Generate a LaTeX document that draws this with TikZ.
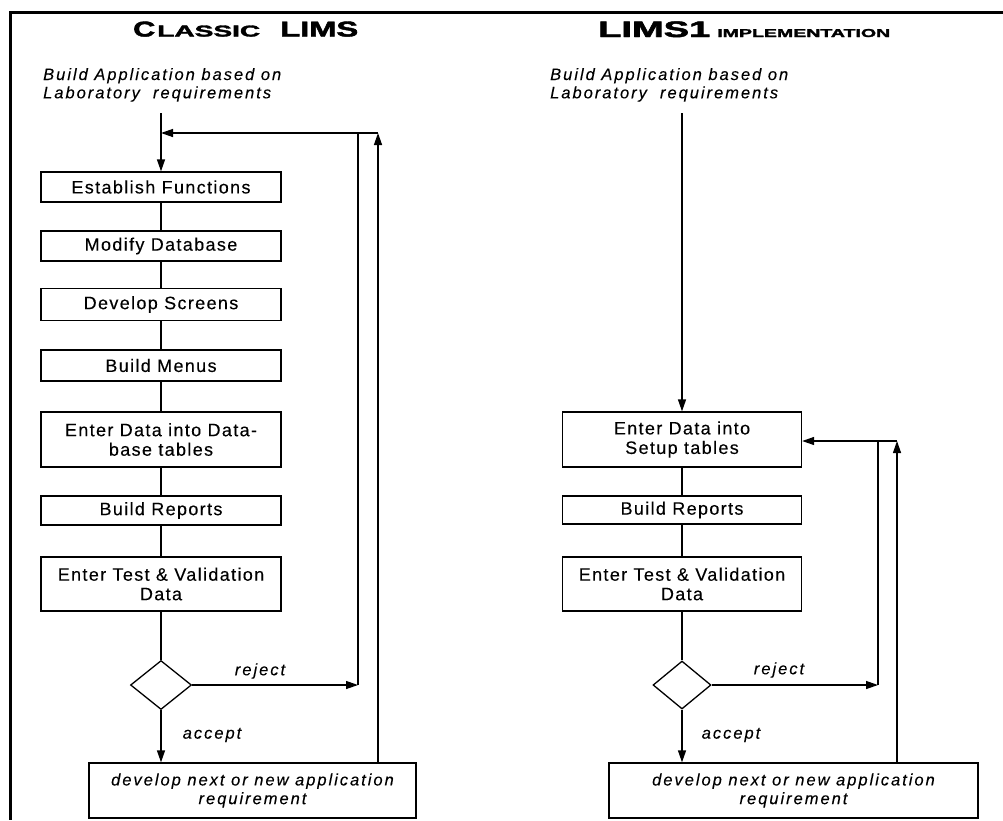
\documentclass[tikz,border=0pt]{standalone}
\usepackage{fontspec}
\usepackage{graphicx}
\setmainfont{Liberation Sans}
\newfontfamily\boxfont[LetterSpace=7.5,FakeBold=0.2]{Liberation Sans}
\newfontfamily\itfont[LetterSpace=12,FakeBold=0.15]{Liberation Sans}
\newfontfamily\titlefont[FakeBold=2]{Liberation Sans}
\usetikzlibrary{arrows.meta,shapes.geometric}
\tikzset{
  stepbox/.style={draw, line width=1.3pt, minimum width=240pt, inner sep=0pt, align=center,
    font=\boxfont\fontsize{18}{19.5}\selectfont},
  itbox/.style={draw, line width=1.3pt, inner sep=0pt, align=center, minimum height=55pt,
    font=\itfont\itshape\fontsize{16.5}{18.7}\selectfont},
  itlabel/.style={inner sep=0pt, align=left, font=\itfont\itshape\fontsize{16.5}{18.3}\selectfont},
  decision/.style={draw, diamond, line width=1.3pt, inner sep=0pt},
  conn/.style={line width=1.3pt},
  arr/.style={conn, -{Triangle[length=12pt,width=8pt]}},
  frame/.style={line width=3pt}
}
\begin{document}
\begin{tikzpicture}[x=1pt,y=-1pt]
\useasboundingbox (0,0) rectangle (1003,820);
% frame
\coordinate (f1) at (9,12.5);
\coordinate (f2) at (1003,12.5);
\coordinate (f3) at (10.5,820);
\draw[frame] (f2) -- (f1 -| f3) -- (f3);

% ---------- left: Classic LIMS ----------
\node[anchor=base west, inner sep=0pt] (t1) at (133,36.5) {\titlefont\bfseries
  \resizebox{22pt}{15pt}{C}\hspace{2pt}\resizebox{103pt}{11pt}{LASSIC}\hspace{20pt}\resizebox{78pt}{15pt}{LIMS}};
\node[itlabel, anchor=base west] (s1) at (43,98.3) {Build Application based on\\Laboratory~ requirements};

\node[stepbox, minimum height=30pt] (L1) at (161,187) {Establish Functions};
\node[stepbox, minimum height=30pt] (L2) at (161,246) {Modify Database};
\node[stepbox, minimum height=32pt] (L3) at (161,304.5) {Develop Screens};
\node[stepbox, minimum height=31pt] (L4) at (161,365.5) {Build Menus};
\node[stepbox, minimum height=55pt] (L5) at (161,439.5) {Enter Data into Data-\\base tables};
\node[stepbox, minimum height=29pt] (L6) at (161,510.5) {Build Reports};
\node[stepbox, minimum height=54pt] (L7) at (161,584) {Enter Test \& Validation\\Data};
\node[decision, minimum width=61pt, minimum height=49pt] (D1) at (161,685) {};
\node[itbox, minimum width=327pt] (B1) at (252.5,790.5) {develop next or new application\\requirement};
\node[itlabel] (rj1) at (260,671) {reject};
\node[itlabel] (ac1) at (212,735) {accept};

\coordinate (lt) at (161,113);
\coordinate (lj) at (161,133);
\coordinate (li) at (358,133);
\coordinate (lo) at (378,133);
\coordinate (lr) at (358,685);

\draw[arr] (lt) -- (L1.north);
\draw[conn] (L1) -- (L2);
\draw[conn] (L2) -- (L3);
\draw[conn] (L3) -- (L4);
\draw[conn] (L4) -- (L5);
\draw[conn] (L5) -- (L6);
\draw[conn] (L6) -- (L7);
\draw[conn] (L7) -- (D1);
\draw[arr] (D1.east) -- (lr);
\draw[conn] (li) -- (lr);
\draw[arr] (D1.south) -- (B1.north -| D1.south);
\draw[arr] (B1.north -| lo) -- (lo);
\draw[arr] (lo) -- (lj);

% ---------- right: LIMS1 implementation ----------
\node[anchor=base west, inner sep=0pt] (t2) at (598,37) {\titlefont\bfseries
  \resizebox{112pt}{15.7pt}{LIMS1}\hspace{7pt}\resizebox{173pt}{8pt}{IMPLEMENTATION}};
\node[itlabel, anchor=base west] (s2) at (550,98.3) {Build Application based on\\Laboratory~ requirements};

\node[stepbox, minimum height=55pt, minimum width=239pt] (R1) at (682,439.5) {Enter Data into\\Setup tables};
\node[stepbox, minimum height=28pt, minimum width=239pt] (R2) at (682,510) {Build Reports};
\node[stepbox, minimum height=54pt, minimum width=239pt] (R3) at (682,584) {Enter Test \& Validation\\Data};
\node[decision, minimum width=58pt, minimum height=48pt] (D2) at (682,685) {};
\node[itbox, minimum width=369pt] (B2) at (793.5,790.5) {develop next or new application\\requirement};
\node[itlabel] (rj2) at (779,670) {reject};
\node[itlabel] (ac2) at (731,735) {accept};

\coordinate (rt) at (682,113);
\coordinate (ri) at (878,441);
\coordinate (ro) at (897,441);
\coordinate (rr) at (878,685);

\draw[arr] (rt) -- (rt |- R1.north);
\draw[conn] (R1) -- (R2);
\draw[conn] (R2) -- (R3);
\draw[conn] (R3) -- (D2);
\draw[arr] (D2.east) -- (rr);
\draw[conn] (ri) -- (rr);
\draw[arr] (D2.south) -- (B2.north -| D2.south);
\draw[arr] (B2.north -| ro) -- (ro);
\draw[arr] (ro) -- (R1.east |- ro);
\end{tikzpicture}
\end{document}
